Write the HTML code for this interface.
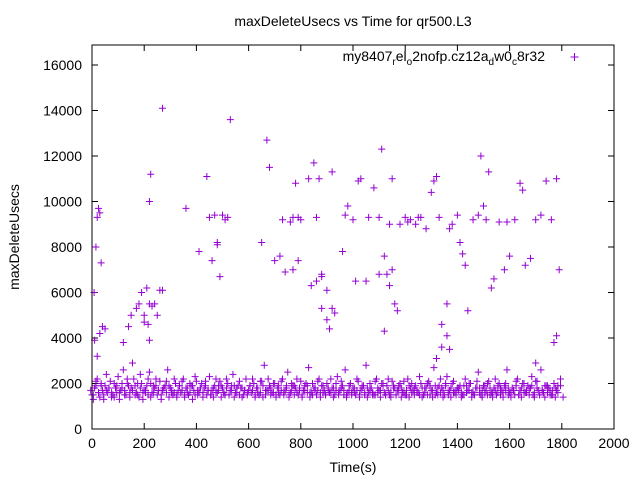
<!DOCTYPE html>
<html><head><meta charset="utf-8"><style>
body{margin:0;background:#fff;}
svg{display:block;font-family:"Liberation Sans",sans-serif;}
</style></head><body>
<svg id="chart" width="640" height="480" viewBox="0 0 640 480">
<rect x="0" y="0" width="640" height="480" fill="#fff"/>
<text x="353" y="26" font-size="14" text-anchor="middle">maxDeleteUsecs vs Time for qr500.L3</text>
<text transform="translate(19,237) rotate(-90)" font-size="14" text-anchor="middle">maxDeleteUsecs</text>
<text x="353" y="472" font-size="14" text-anchor="middle">Time(s)</text>
<g id="ticks"></g>
<g id="marks"></g>
<rect x="92" y="45" width="522" height="384" fill="none" stroke="#000" stroke-width="1"/>
<g>
<text x="545" y="61" font-size="14" text-anchor="end">my8407<tspan font-size="10" dy="4">r</tspan><tspan dy="-4">el</tspan><tspan font-size="10" dy="4">o</tspan><tspan dy="-4">2nofp.cz12a</tspan><tspan font-size="10" dy="4">d</tspan><tspan dy="-4">w0</tspan><tspan font-size="10" dy="4">c</tspan><tspan dy="-4">8r32</tspan></text>
<path d="M570.5 57h8M574.5 53v8" stroke="#9400d3" stroke-width="1"/>
</g>
</svg>
<script>
const xTicks=[0,200,400,600,800,1000,1200,1400,1600,1800,2000];
const yTicks=[0,2000,4000,6000,8000,10000,12000,14000,16000];
const bandTimes=[0,10,20,30,40,50,60,70,80,90,100,110,120,130,140,150,160,170,180,190,200,210,220,230,240,250,260,270,280,290,300,310,320,330,340,350,360,370,380,390,400,410,420,430,440,450,460,470,480,490,500,510,520,530,540,550,560,570,580,590,600,610,620,630,640,650,660,670,680,690,700,710,720,730,740,750,760,770,780,790,800,810,820,830,840,850,860,870,880,890,900,910,920,930,940,950,960,970,980,990,1000,1010,1020,1030,1040,1050,1060,1070,1080,1090,1100,1110,1120,1130,1140,1150,1160,1170,1180,1190,1200,1210,1220,1230,1240,1250,1260,1270,1280,1290,1300,1310,1320,1330,1340,1350,1360,1370,1380,1390,1400,1410,1420,1430,1440,1450,1460,1470,1480,1490,1500,1510,1520,1530,1540,1550,1560,1570,1580,1590,1600,1610,1620,1630,1640,1650,1660,1670,1680,1690,1700,1710,1720,1730,1740,1750,1760,1770,1780,1790,1800];
const bandA=[1500,1800,2200,1400,1700,1900,1600,2100,1500,1800,2300,1700,2600,1500,1900,1800,2200,1600,1400,2000,1700,1900,2500,1600,1800,1500,2100,1700,1900,2600,1800,1500,2000,1700,1600,2200,1800,1500,1900,1700,2100,1600,2000,1800,1500,2300,1700,1900,1600,2100,1800,1500,2000,1700,2400,1600,1900,1800,1500,2200,1700,1600,2000,1800,1500,2100,2800,1700,1900,1600,2000,1800,1500,2200,1700,2500,1600,1900,1800,1500,2100,1700,2000,2700,1600,1800,1500,2200,1900,1700,2000,1600,1800,1500,2300,1700,1900,2600,1600,2000,1800,1500,2100,1700,1900,2800,1600,1800,1500,2200,1700,2000,1600,1900,1500,2100,1800,1700,2000,1600,1500,2200,1800,1700,1900,1600,2000,1500,1800,2100,1700,2700,1600,1900,1800,1500,2300,1700,2000,1600,1800,1900,1500,2200,1700,2000,1600,1800,2500,1500,1900,1700,2100,1600,1800,1500,2000,1700,1900,2600,1600,1800,1500,2200,1700,2000,1600,1900,1800,1500,2100,1700,2600,1600,1900,1800,1500,2000,1700];
const bandB=[1300,2100,1600,1900,1300,2400,1800,1400,2000,1600,1300,2000,1500,2200,1400,2900,1500,2000,2400,1300,1600,2200,1400,1900,2200,1700,1300,1800,2100,1400,1600,2200,1400,1900,2100,1400,1600,2000,1300,2300,1500,1800,1400,2100,1700,1500,1400,2200,1900,1400,1600,2200,1500,1900,1400,1800,2100,1400,1700,1500,1900,2200,1400,1600,2100,1400,1700,2200,1500,2000,1400,1600,2100,1500,1900,1400,2000,1500,2200,1700,1400,1900,1600,1400,2000,1700,2100,1400,1600,1500,1800,2200,1400,2000,1600,2100,1500,1400,1900,1500,1600,2200,1400,1800,1500,1400,2000,1500,2100,1600,1400,2000,1500,2200,1400,1800,1500,1900,1400,2100,1700,1400,2000,1500,1600,2300,1400,1800,2000,1500,1400,1900,1500,2200,1400,2000,1600,1400,2100,1500,1700,1400,1900,1600,2000,1400,1500,2100,1800,1400,1600,2000,1500,1400,2200,1600,1800,1400,2000,1500,1400,1700,2100,1500,1400,2000,1600,1800,2300,1400,2100,1500,1700,1400,1900,1500,1700,1400,1900,2200,1400];
const bandC=[1700,1500,1900,1600,2000,1500,1700,1800,1600,1400,1900,1600,1800,1700,2000,1600,1700,1900,1500,1800,1600,1700,1500,2000,1600,1900,1700,1500,1800,1600,1900,1700,1600,1500,1900,1700,1500,1800,1600,1900,1500,1700,1800,1600,1900,1700,1500,1800,1600,1700,1900,1600,1800,1500,1700,1900,1600,1500,1800,1700,1600,1900,1700,1500,1800,1600,1900,1500,1700,1800,1600,1500,1900,1700,1600,1800,1500,1700,1900,1600,1800,1500,1700,1900,1600,1500,1800,1700,1600,1900,1500,1700,1600,1800,1700,1500,1800,1700,1500,1700,1600,1800,1700,1500,1900,1600,1800,1700,1600,1500,1800,1700,1900,1500,1700,1600,1900,1500,1700,1800,1600,1500,1900,1600,1800,1700,1500,1800,1600,1500,1900,1700,1500,1800,1600,1700,1900,1500,1800,1600,1700,1800,1600,1500,1900,1700,1600,1500,1800,1600,1700,1900,1500,1800,1600,1700,1900,1500,1600,1700,1800,1600,1700,1900,1500,1800,1600,1700,1500,1900,1600,1800,1500,1700,1900,1600,1700,1500,1800,1600,1900];
const highTimes=[8,15,20,25,30,35,40,30,50,10,20,120,140,150,170,180,200,190,210,220,230,240,250,260,270,200,215,220,225,220,270,360,410,440,450,460,470,480,490,500,510,520,530,480,650,670,680,700,720,730,740,760,770,780,790,800,770,790,830,850,860,840,860,880,900,880,910,920,900,930,880,870,920,960,970,980,1000,1010,1020,1030,1050,1060,1080,1100,1110,1120,1130,1140,1150,1160,1170,1120,1100,1140,1150,1180,1200,1220,1240,1260,1280,1300,1310,1320,1330,1340,1360,1370,1380,1400,1410,1420,1430,1440,1460,1480,1490,1500,1510,1520,1530,1540,1560,1580,1590,1600,1620,1640,1650,1660,1680,1700,1720,1740,1760,1780,1790,1360,1340,1370,1210,1250,1780,1770,1700,1320];
const highValues=[6000,8000,9300,9700,9500,7300,4500,4200,4400,3900,3200,3800,4500,5000,5300,5500,5000,6000,6200,5500,5400,5500,5000,6100,6100,4700,4600,3900,11200,10000,14100,9700,7800,11100,9300,7400,9400,8100,6700,9400,9200,9300,13600,8200,8200,12700,11500,7400,7600,9200,6900,9100,9300,10800,9300,9200,7000,7400,11000,11700,9300,6300,6500,6800,6100,5300,4400,5300,4800,5100,6700,11000,11300,7800,9400,9800,9200,6500,10900,11000,6500,9300,10600,6800,12300,7600,6800,6300,7000,5500,5200,4300,9300,9000,11000,9000,9300,9200,9000,9300,8800,10400,10900,11100,9300,3600,5500,8800,9000,9400,8200,7700,7200,5200,9200,9400,12000,9800,9200,11300,6200,6600,9100,7000,9100,7600,9200,10800,10500,7200,7500,9200,9400,10900,9200,11000,7000,4100,4600,3500,9100,9300,4100,3800,2900,3100];
const X=v=>92+v*522/2000;
const Y=v=>429-v*364/16000;
const NS="http://www.w3.org/2000/svg";
const tg=document.getElementById('ticks');
xTicks.forEach(t=>{
  const p=document.createElementNS(NS,'path');
  p.setAttribute('d',`M${X(t)} 429v-6M${X(t)} 45v6`);p.setAttribute('stroke','#000');
  
  
  tg.appendChild(p);
  const l=document.createElementNS(NS,'text');
  l.setAttribute('x',X(t));l.setAttribute('y',448);l.setAttribute('font-size','14');l.setAttribute('text-anchor','middle');
  l.textContent=t;
  
  
  tg.appendChild(l);
});
yTicks.forEach(t=>{
  const p=document.createElementNS(NS,'path');
  p.setAttribute('d',`M92 ${Y(t)}h6M614 ${Y(t)}h-6`);p.setAttribute('stroke','#000');
  
  
  tg.appendChild(p);
  const l=document.createElementNS(NS,'text');
  l.setAttribute('x',82);l.setAttribute('y',Y(t)+5);l.setAttribute('font-size','14');l.setAttribute('text-anchor','end');
  l.textContent=t;
  
  
  tg.appendChild(l);
});
const mg=document.getElementById('marks');
function plus(t,v,offs){
  const x=X(t)+offs,y=Y(v);
  const p=document.createElementNS(NS,'path');
  p.setAttribute('d',`M${x-3.5} ${y}h7M${x} ${y-3.5}v7`);
  p.setAttribute('stroke','#9400d3');p.setAttribute('fill','none');
  
  
  mg.appendChild(p);
}
bandTimes.forEach((t,i)=>{plus(t,bandA[i],0);plus(t,bandB[i],1.3);plus(t,bandC[i],-1.3);});
highTimes.forEach((t,i)=>plus(t,highValues[i],0));
</script>
</body></html>
